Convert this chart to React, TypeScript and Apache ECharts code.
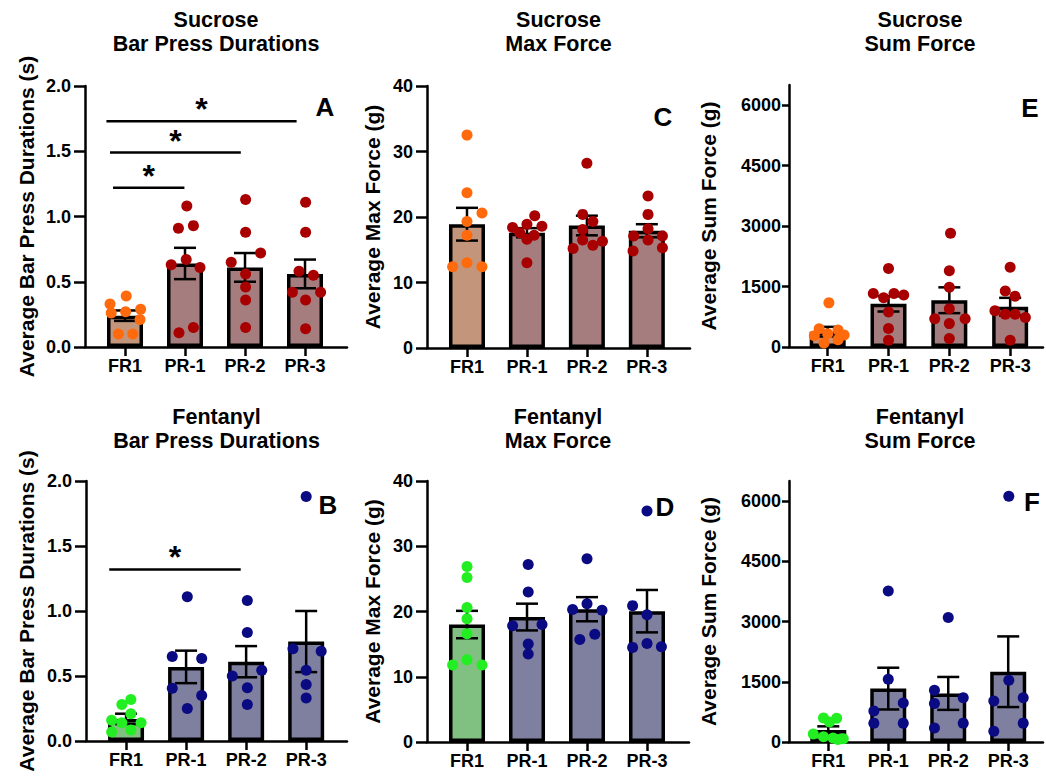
import React, { useEffect, useRef } from 'react';
import * as echarts from 'echarts';

const categories = ['FR1', 'PR-1', 'PR-2', 'PR-3'];

// ---- Sucrose: Bar press durations (A)
const sucDurFR1 = [0.33, 0.39, 0.26, 0.27, 0.29, 0.21, 0.1, 0.1];
const sucDurPR1 = [1.08, 0.91, 0.93, 0.63, 0.67, 0.61, 0.11, 0.15];
const sucDurPR2 = [1.13, 0.88, 0.72, 0.65, 0.56, 0.46, 0.36, 0.15];
const sucDurPR3 = [1.11, 0.88, 0.58, 0.55, 0.42, 0.42, 0.36, 0.14];
const sucDurJitter = [
  [-0.25, 0.02, -0.23, 0.01, 0.26, 0.25, -0.11, 0.13],
  [0.03, -0.11, 0.14, -0.23, 0.02, 0.25, -0.1, 0.14],
  [0.01, 0.01, 0.26, -0.23, 0.01, 0.01, 0.01, 0.01],
  [0.01, 0.01, -0.1, 0.14, -0.21, 0.26, 0.01, 0.01],
];
const sucDurMean = [0.24, 0.64, 0.61, 0.56];
const sucDurSem = [0.04, 0.12, 0.11, 0.11];
const sucDurSig = [
  [-0.31, 2.86, 1.73],
  [-0.25, 1.93, 1.49],
  [-0.2, 0.99, 1.22],
];

// ---- Sucrose: Max force (C)
const sucMaxFR1 = [32.5, 23.7, 20.6, 19.3, 17.2, 12.4, 13.0, 12.4];
const sucMaxPR1 = [20.2, 18.9, 18.6, 18.4, 17.6, 17.2, 16.6, 13.0];
const sucMaxPR2 = [28.2, 20.4, 19.3, 18.1, 16.5, 15.2, 15.7, 16.3];
const sucMaxPR3 = [23.2, 20.4, 18.2, 17.1, 16.5, 17.1, 14.8, 15.3];
const sucMaxJitter = [
  [0, 0, 0.25, 0, 0, -0.24, 0, 0.25],
  [0.13, 0, 0.25, -0.24, -0.12, 0.12, 0, 0],
  [0, -0.07, 0.1, -0.07, -0.07, -0.23, 0.1, 0.26],
  [0.02, 0.02, 0.02, -0.22, 0.02, 0.26, -0.23, 0.26],
];
const sucMaxMean = [18.9, 17.6, 18.7, 17.9];
const sucMaxSem = [2.5, 0.7, 1.5, 1.0];

// ---- Sucrose: Sum force (E)
const sucSumFR1 = [1095, 450, 420, 330, 300, 280, 180, 100];
const sucSumPR1 = [1950, 1330, 1330, 1290, 1220, 870, 460, 170];
const sucSumPR2 = [2820, 1890, 1480, 950, 700, 700, 580, 210];
const sucSumPR3 = [1980, 1390, 1260, 900, 810, 810, 730, 170];
const sucSumJitter = [
  [0.02, -0.14, 0.17, 0, 0.27, -0.22, 0.17, -0.06],
  [0, -0.25, 0.09, 0.25, -0.08, 0, 0, 0],
  [0.02, 0, 0, 0, -0.24, 0.26, 0, 0],
  [0, -0.08, 0.08, -0.25, -0.08, 0.08, 0.25, 0],
];
const sucSumMean = [380, 1070, 1160, 1000];
const sucSumSem = [120, 190, 320, 220];

// ---- Fentanyl: Bar press durations (B)
const fenDurFR1 = [0.32, 0.28, 0.21, 0.16, 0.14, 0.14, 0.07, 0.085];
const fenDurPR1 = [1.11, 0.65, 0.635, 0.405, 0.35, 0.25];
const fenDurPR2 = [1.08, 0.835, 0.5, 0.545, 0.41, 0.28];
const fenDurPR3 = [1.88, 0.71, 0.69, 0.545, 0.435, 0.33];
const fenDurJitter = [
  [0.08, -0.07, 0.08, -0.24, -0.07, 0.25, -0.24, 0.08],
  [0.02, -0.23, 0.26, -0.23, 0.26, 0.02],
  [0.02, 0.02, -0.23, 0.26, 0.02, 0.02],
  [0, -0.22, 0.25, 0, 0, 0],
];
const fenDurMean = [0.17, 0.57, 0.61, 0.765];
const fenDurSem = [0.04, 0.125, 0.12, 0.235];
const fenDurSig = [[-0.28, 1.91, 1.32]];

// ---- Fentanyl: Max force (D)
const fenMaxFR1 = [26.9, 25.2, 20.6, 18.9, 16.6, 12.6, 11.8, 11.8];
const fenMaxPR1 = [27.2, 23.0, 17.8, 18.0, 15.0, 13.5];
const fenMaxPR2 = [28.1, 20.3, 21.2, 20.2, 15.7, 16.5];
const fenMaxPR3 = [35.4, 20.9, 19.5, 14.5, 15.1, 14.6];
const fenMaxJitter = [
  [0, 0, 0, 0, 0, 0, -0.24, 0.25],
  [0.02, 0.02, -0.24, 0.25, 0.02, 0.02],
  [0, -0.24, 0, 0.25, -0.12, 0.13],
  [0, -0.24, 0, -0.24, 0, 0.24],
];
const fenMaxMean = [18.0, 19.15, 20.35, 20.05];
const fenMaxSem = [2.1, 2.05, 1.85, 3.25];

// ---- Fentanyl: Sum force (F)
const fenSumFR1 = [600, 590, 500, 200, 130, 100, 80, 60];
const fenSumPR1 = [3760, 1560, 970, 770, 470, 470];
const fenSumPR2 = [3100, 1290, 1100, 960, 470, 350];
const fenSumPR3 = [6120, 1540, 1020, 1100, 470, 270];
const fenSumJitter = [
  [-0.08, 0.14, 0.02, -0.25, -0.08, 0.08, 0.25, 0.16],
  [0, 0, 0.25, -0.24, -0.24, 0.25],
  [0, -0.23, 0.25, -0.23, 0.25, -0.23],
  [0.01, 0.01, -0.24, 0.25, 0.25, -0.24],
];
const fenSumMean = [300, 1330, 1210, 1750];
const fenSumSem = [90, 520, 410, 880];

const durTicks = [0, 0.5, 1.0, 1.5, 2.0];
const maxTicks = [0, 10, 20, 30, 40];
const sumTicks = [0, 1500, 3000, 4500, 6000];

const FONT = '"Liberation Sans", Arial, Helvetica, sans-serif';

const sucBar = ['#C3967B', '#A67D7E', '#A67D7E', '#A67D7E'];
const sucPts = ['#FF6A0D', '#A80000', '#A80000', '#A80000'];
const fenBar = ['#80C080', '#7F809F', '#7F809F', '#7F809F'];
const fenPts = ['#22EE22', '#0A0A82', '#0A0A82', '#0A0A82'];

type Panel = {
  title: string;
  yName: string;
  letter: string;
  letterPos: [number, number];
  left: number;
  top: number;
  width: number;
  height: number;
  xMin: number;
  xMax: number;
  yMax: number;
  yTicks: number[];
  decimals: number;
  nameGap: number;
  labelMargin: number;
  tickLen: number;
  groups: number[][];
  jitter: number[][];
  means: number[];
  sems: number[];
  barColors: string[];
  pointColors: string[];
  sig?: number[][];
};

const panels: Panel[] = [
  {
    title: 'Sucrose\nBar Press Durations', yName: 'Average Bar Press Durations (s)', letter: 'A', letterPos: [325, 107],
    left: 85, top: 86, width: 262, height: 261, xMin: -0.667, xMax: 3.7, yMax: 2, yTicks: durTicks, decimals: 1,
    nameGap: 48, labelMargin: 14, tickLen: 11,
    groups: [sucDurFR1, sucDurPR1, sucDurPR2, sucDurPR3], jitter: sucDurJitter, means: sucDurMean, sems: sucDurSem,
    barColors: sucBar, pointColors: sucPts, sig: sucDurSig,
  },
  {
    title: 'Sucrose\nMax Force', yName: 'Average Max Force (g)', letter: 'C', letterPos: [663, 117],
    left: 427, top: 86, width: 263, height: 262, xMin: -0.667, xMax: 3.72, yMax: 40, yTicks: maxTicks, decimals: 0,
    nameGap: 44, labelMargin: 14, tickLen: 11,
    groups: [sucMaxFR1, sucMaxPR1, sucMaxPR2, sucMaxPR3], jitter: sucMaxJitter, means: sucMaxMean, sems: sucMaxSem,
    barColors: sucBar, pointColors: sucPts,
  },
  {
    title: 'Sucrose\nSum Force', yName: 'Average Sum Force (g)', letter: 'E', letterPos: [1030, 108],
    left: 789, top: 85, width: 254, height: 262, xMin: -0.636, xMax: 3.54, yMax: 6500, yTicks: sumTicks, decimals: 0,
    nameGap: 70, labelMargin: 8, tickLen: 7,
    groups: [sucSumFR1, sucSumPR1, sucSumPR2, sucSumPR3], jitter: sucSumJitter, means: sucSumMean, sems: sucSumSem,
    barColors: sucBar, pointColors: sucPts,
  },
  {
    title: 'Fentanyl\nBar Press Durations', yName: 'Average Bar Press Durations (s)', letter: 'B', letterPos: [328, 505],
    left: 86, top: 481, width: 261, height: 260, xMin: -0.667, xMax: 3.68, yMax: 2, yTicks: durTicks, decimals: 1,
    nameGap: 49, labelMargin: 14, tickLen: 11,
    groups: [fenDurFR1, fenDurPR1, fenDurPR2, fenDurPR3], jitter: fenDurJitter, means: fenDurMean, sems: fenDurSem,
    barColors: fenBar, pointColors: fenPts, sig: fenDurSig,
  },
  {
    title: 'Fentanyl\nMax Force', yName: 'Average Max Force (g)', letter: 'D', letterPos: [665, 507],
    left: 427, top: 481, width: 262, height: 261, xMin: -0.667, xMax: 3.7, yMax: 40, yTicks: maxTicks, decimals: 0,
    nameGap: 44, labelMargin: 14, tickLen: 11,
    groups: [fenMaxFR1, fenMaxPR1, fenMaxPR2, fenMaxPR3], jitter: fenMaxJitter, means: fenMaxMean, sems: fenMaxSem,
    barColors: fenBar, pointColors: fenPts,
  },
  {
    title: 'Fentanyl\nSum Force', yName: 'Average Sum Force (g)', letter: 'F', letterPos: [1032, 502],
    left: 789, top: 481, width: 254, height: 261, xMin: -0.655, xMax: 3.58, yMax: 6500, yTicks: sumTicks, decimals: 0,
    nameGap: 70, labelMargin: 8, tickLen: 7,
    groups: [fenSumFR1, fenSumPR1, fenSumPR2, fenSumPR3], jitter: fenSumJitter, means: fenSumMean, sems: fenSumSem,
    barColors: fenBar, pointColors: fenPts,
  },
];

function buildOption() {
  const grid: any[] = [];
  const xAxis: any[] = [];
  const yAxis: any[] = [];
  const series: any[] = [];
  const title: any[] = [];
  const graphic: any[] = [];
  const catIdx = [0, 1, 2, 3];

  panels.forEach((p, i) => {
    grid.push({ left: p.left, top: p.top, width: p.width, height: p.height, containLabel: false });
    xAxis.push({
      type: 'value', gridIndex: i, min: p.xMin, max: p.xMax,
      axisLine: { show: true, onZero: false, lineStyle: { color: '#000', width: 2.5 } },
      axisTick: { show: true, customValues: catIdx, length: 9, lineStyle: { color: '#000', width: 2.5 } },
      axisLabel: {
        show: true, customValues: catIdx, margin: 10, color: '#000', fontSize: 18, fontWeight: 'bold', fontFamily: FONT,
        formatter: (v: number) => categories[Math.round(v)] ?? '',
      },
      splitLine: { show: false },
    });
    yAxis.push({
      type: 'value', gridIndex: i, min: 0, max: p.yMax,
      name: p.yName, nameLocation: 'middle', nameGap: p.nameGap,
      nameTextStyle: { color: '#000', fontSize: 21, fontWeight: 'bold', fontFamily: FONT },
      axisLine: { show: true, onZero: false, lineStyle: { color: '#000', width: 2.5 } },
      axisTick: { show: true, customValues: p.yTicks, length: p.tickLen, lineStyle: { color: '#000', width: 2.5 } },
      axisLabel: {
        show: true, customValues: p.yTicks, margin: p.labelMargin, color: '#000', fontSize: 18, fontWeight: 'bold', fontFamily: FONT,
        formatter: (v: number) => v.toFixed(p.decimals),
      },
      splitLine: { show: false },
    });
    title.push({
      text: p.title, left: p.left + p.width / 2 + (i % 3 === 2 ? 4 : 0), top: p.top < 200 ? 8 : 405, textAlign: 'center', padding: 0,
      textStyle: { color: '#000', fontSize: 21.5, fontWeight: 'bold', lineHeight: 24, fontFamily: FONT },
    });
    graphic.push({
      type: 'text', x: p.letterPos[0], y: p.letterPos[1], z: 10,
      style: { text: p.letter, fill: '#000', font: `bold 26px ${FONT}`, align: 'center', verticalAlign: 'middle' },
    });

    series.push({
      type: 'bar', xAxisIndex: i, yAxisIndex: i, barWidth: 36, z: 2,
      itemStyle: { borderColor: '#000', borderWidth: 3.5 },
      data: p.means.map((m, k) => ({ value: [k, m], itemStyle: { color: p.barColors[k], borderColor: '#000', borderWidth: 3.5 } })),
    });
    series.push({
      type: 'custom', xAxisIndex: i, yAxisIndex: i, z: 3,
      data: p.means.map((m, k) => [k, m, p.sems[k]]),
      renderItem: (params: any, api: any) => {
        const x = api.value(0);
        const m = api.value(1);
        const s = api.value(2);
        const hi = api.coord([x, m + s]);
        const lo = api.coord([x, m - s]);
        const cap = 11;
        const st = { stroke: '#000', lineWidth: 2.5 };
        return {
          type: 'group',
          children: [
            { type: 'line', shape: { x1: hi[0], y1: hi[1], x2: lo[0], y2: lo[1] }, style: st },
            { type: 'line', shape: { x1: hi[0] - cap, y1: hi[1], x2: hi[0] + cap, y2: hi[1] }, style: st },
            { type: 'line', shape: { x1: lo[0] - cap, y1: lo[1], x2: lo[0] + cap, y2: lo[1] }, style: st },
          ],
        };
      },
    });
    p.groups.forEach((vals, k) => {
      series.push({
        type: 'scatter', xAxisIndex: i, yAxisIndex: i, z: 4, symbol: 'circle', symbolSize: 11,
        itemStyle: { color: p.pointColors[k], opacity: 1 },
        data: vals.map((v, j) => [k + p.jitter[k][j], v]),
      });
    });
    if (p.sig) {
      series.push({
        type: 'custom', xAxisIndex: i, yAxisIndex: i, z: 5,
        data: p.sig,
        renderItem: (params: any, api: any) => {
          const a = api.coord([api.value(0), api.value(2)]);
          const b = api.coord([api.value(1), api.value(2)]);
          return {
            type: 'group',
            children: [
              { type: 'line', shape: { x1: a[0], y1: a[1], x2: b[0], y2: b[1] }, style: { stroke: '#000', lineWidth: 2.5 } },
              {
                type: 'text', x: (a[0] + b[0]) / 2, y: a[1] - 12,
                style: { text: '*', fill: '#000', font: `bold 32px ${FONT}`, align: 'center', verticalAlign: 'middle' },
              },
            ],
          };
        },
      });
    }
  });

  return {
    animation: false,
    backgroundColor: '#fff',
    textStyle: { fontFamily: FONT },
    title,
    grid,
    xAxis,
    yAxis,
    series,
    graphic,
  };
}

export default function App() {
  const ref = useRef<HTMLDivElement>(null);
  useEffect(() => {
    if (!ref.current) return;
    const chart = echarts.init(ref.current, undefined, { renderer: 'svg' });
    chart.setOption(buildOption() as any);
    return () => chart.dispose();
  }, []);
  return (
    <div
      ref={ref}
      style={{ position: 'fixed', left: 0, top: 0, width: 1046, height: 780, background: '#fff' }}
    />
  );
}
